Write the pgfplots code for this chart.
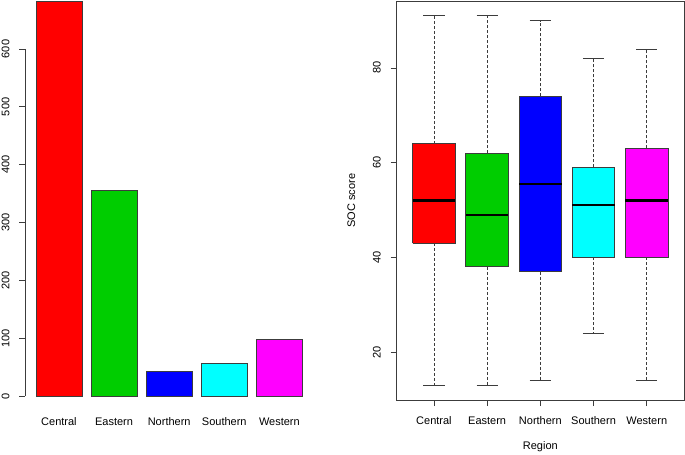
\documentclass[border=0pt]{standalone}
\usepackage{pgfplots}
\pgfplotsset{compat=1.18}
\usepackage{fontspec}
\setmainfont{Liberation Sans}
\definecolor{rred}{RGB}{255,0,0}
\definecolor{rgreen}{RGB}{0,205,0}
\definecolor{rblue}{RGB}{0,0,255}
\definecolor{rcyan}{RGB}{0,255,255}
\definecolor{rmag}{RGB}{255,0,255}
\definecolor{axgray}{RGB}{60,60,60}
\pgfplotsset{
  boxst/.style={draw=axgray, line width=0.75bp, line join=miter, mark=none},
  whisk/.style={axgray, line width=0.75bp, dash pattern=on 3bp off 2bp, mark=none},
  capst/.style={axgray, line width=0.75bp, mark=none},
  medst/.style={black, line width=2.2bp, mark=none},
}
\begin{document}
\begin{tikzpicture}
\pgfplotsset{every axis/.append style={
  font=\fontsize{11bp}{13bp}\selectfont,
  /pgf/number format/assume math mode=true,
  scale only axis, anchor=south west, height=399bp,
  tick style={axgray, line width=0.75bp},
  major tick length=6bp, minor tick num=0,
  tick align=outside,
  xticklabel style={anchor=base, yshift=-19bp},
  yticklabel style={xshift=-10bp, rotate=90, anchor=base},
}}
% ---------------- left: bar chart ----------------
\begin{axis}[at={(25.35bp,55bp)}, width=287.65bp,
  xmin=-0.032, xmax=6.232, ymin=-6.83, ymax=683,
  axis x line*=bottom, axis y line*=left, axis line style={draw=none},
  xtick={0.7,1.9,3.1,4.3,5.5},
  xticklabels={Central,Eastern,Northern,Southern,Western},
  x tick style={draw=none},
  ytick={0,100,200,300,400,500,600},
  clip=false]
\addplot[ybar, bar width=1, bar shift=0pt, fill=rred, draw=axgray, line width=0.75bp] coordinates {(0.7,683)};
\addplot[ybar, bar width=1, bar shift=0pt, fill=rgreen, draw=axgray, line width=0.75bp] coordinates {(1.9,355)};
\addplot[ybar, bar width=1, bar shift=0pt, fill=rblue, draw=axgray, line width=0.75bp] coordinates {(3.1,42)};
\addplot[ybar, bar width=1, bar shift=0pt, fill=rcyan, draw=axgray, line width=0.75bp] coordinates {(4.3,57)};
\addplot[ybar, bar width=1, bar shift=0pt, fill=rmag, draw=axgray, line width=0.75bp] coordinates {(5.5,98)};
\draw[axgray, line width=0.75bp] (axis cs:-0.032,0) -- (axis cs:-0.032,600);
\end{axis}
% ---------------- right: boxplot ----------------
\begin{axis}[at={(396.7bp,55bp)}, width=287.3bp,
  xmin=0.3, xmax=5.7, ymin=9.88, ymax=94.12,
  axis line style={axgray, line width=0.75bp},
  xtick={1,2,3,4,5},
  xticklabels={Central,Eastern,Northern,Southern,Western},
  ytick={20,40,60,80},
  xtick pos=bottom, ytick pos=left,
  xlabel={Region}, ylabel={SOC score},
  xlabel style={at={(axis description cs:0.5,-0.1253)}, anchor=base},
  ylabel style={at={(axis description cs:-0.1451,0.5)}, anchor=base},
  ]
% Central: 13, 43, 52, 64, 91
\addplot[whisk] coordinates {(1,64) (1,91)};
\addplot[whisk] coordinates {(1,43) (1,13)};
\addplot[capst] coordinates {(0.8,91) (1.2,91)};
\addplot[capst] coordinates {(0.8,13) (1.2,13)};
\addplot[boxst, fill=rred] coordinates {(0.6,43) (1.4,43) (1.4,64) (0.6,64) (0.6,43)};
\addplot[medst] coordinates {(0.6,52) (1.4,52)};
% Eastern: 13, 38, 49, 62, 91
\addplot[whisk] coordinates {(2,62) (2,91)};
\addplot[whisk] coordinates {(2,38) (2,13)};
\addplot[capst] coordinates {(1.8,91) (2.2,91)};
\addplot[capst] coordinates {(1.8,13) (2.2,13)};
\addplot[boxst, fill=rgreen] coordinates {(1.6,38) (2.4,38) (2.4,62) (1.6,62) (1.6,38)};
\addplot[medst] coordinates {(1.6,49) (2.4,49)};
% Northern: 14, 37, 55.4, 74, 90
\addplot[whisk] coordinates {(3,74) (3,90)};
\addplot[whisk] coordinates {(3,37) (3,14)};
\addplot[capst] coordinates {(2.8,90) (3.2,90)};
\addplot[capst] coordinates {(2.8,14) (3.2,14)};
\addplot[boxst, fill=rblue] coordinates {(2.6,37) (3.4,37) (3.4,74) (2.6,74) (2.6,37)};
\addplot[medst] coordinates {(2.6,55.4) (3.4,55.4)};
% Southern: 24, 40, 51, 59, 82
\addplot[whisk] coordinates {(4,59) (4,82)};
\addplot[whisk] coordinates {(4,40) (4,24)};
\addplot[capst] coordinates {(3.8,82) (4.2,82)};
\addplot[capst] coordinates {(3.8,24) (4.2,24)};
\addplot[boxst, fill=rcyan] coordinates {(3.6,40) (4.4,40) (4.4,59) (3.6,59) (3.6,40)};
\addplot[medst] coordinates {(3.6,51) (4.4,51)};
% Western: 14, 40, 52, 63, 84
\addplot[whisk] coordinates {(5,63) (5,84)};
\addplot[whisk] coordinates {(5,40) (5,14)};
\addplot[capst] coordinates {(4.8,84) (5.2,84)};
\addplot[capst] coordinates {(4.8,14) (5.2,14)};
\addplot[boxst, fill=rmag] coordinates {(4.6,40) (5.4,40) (5.4,63) (4.6,63) (4.6,40)};
\addplot[medst] coordinates {(4.6,52) (5.4,52)};
\end{axis}
\pgfresetboundingbox
\useasboundingbox (0,0) rectangle (685bp,455bp);
\end{tikzpicture}
\end{document}
